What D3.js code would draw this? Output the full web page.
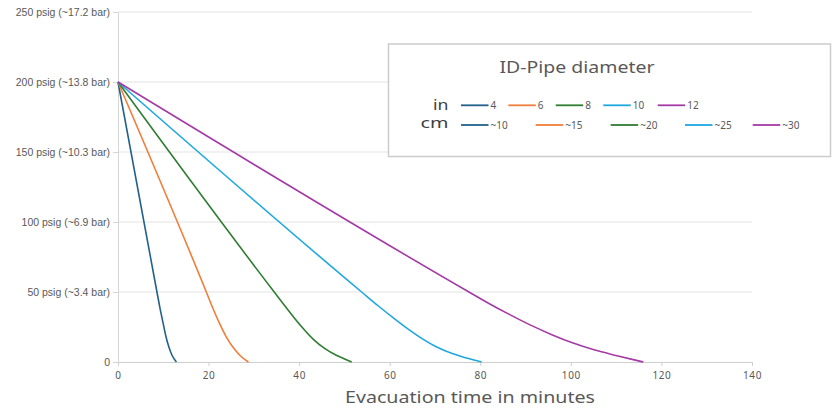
<!DOCTYPE html>
<html>
<head>
<meta charset="utf-8">
<script src="https://cdn.jsdelivr.net/npm/d3@7"></script>
<style>
  html, body { margin: 0; padding: 0; background: #fff; }
  svg { display: block; }
</style>
</head>
<body>
<svg id="chart" width="833" height="409"></svg>
<script>
// ---------------- DATA ----------------
const xTicks = [0, 20, 40, 60, 80, 100, 120, 140];
const yTicks = [0, 50, 100, 150, 200, 250];
const yTickLabels = ["0", "50 psig (~3.4 bar)", "100 psig (~6.9 bar)", "150 psig (~10.3 bar)", "200 psig (~13.8 bar)", "250 psig (~17.2 bar)"];
const xTitle = "Evacuation time in minutes";
const legendTitle = "ID-Pipe diameter";
const legendIn = ["4", "6", "8", "10", "12"];
const legendCm = ["~10", "~15", "~20", "~25", "~30"];

// [minutes, psig]
const pipe4in  = [[0,200],[8.6,50],[9.3,38],[10.0,27],[10.6,18],[11.2,11],[11.9,5],[12.9,0]];
const pipe6in  = [[0,200],[19.5,50],[21.0,38],[22.5,27],[23.9,18],[25.4,10.5],[27.0,4.5],[28.8,0]];
const pipe8in  = [[0,200],[34.5,50],[37.6,37],[40.6,25],[43.2,16],[45.7,9.5],[48.2,4.8],[50.3,1.8],[51.6,0]];
const pipe10in = [[0,200],[53.8,50],[57.5,40],[61.0,31],[64.3,23],[67.5,16],[70.5,10.5],[73.8,6],[77.0,2.8],[80.3,0]];
const pipe12in = [[0,200],[77.5,50],[81.8,42],[86.4,34],[91.0,26.5],[95.8,19.5],[100.5,13.5],[105.3,8.5],[110.2,4.5],[114.0,1.5],[116,0]];

const seriesData = [pipe4in, pipe6in, pipe8in, pipe10in, pipe12in];
const colors = ["#22618c", "#f07e3a", "#2f7d32", "#1ea8df", "#a43aa6"];

// ---------------- LAYOUT ----------------
const svg = d3.select("#chart");
const x = d3.scaleLinear().domain([0, 140]).range([118, 752]);
const y = d3.scaleLinear().domain([0, 250]).range([362, 12]);
const grey = "#595959";

// gridlines
svg.append("g")
  .selectAll("line").data(yTicks.filter(d => d > 0)).join("line")
  .attr("x1", x(0)).attr("x2", x(140))
  .attr("y1", d => y(d)).attr("y2", d => y(d))
  .attr("stroke", "#e3e3e3").attr("stroke-width", 1);

// y axis
const yAxis = d3.axisLeft(y).tickValues(yTicks).tickSize(5).tickPadding(3)
  .tickFormat((d, i) => yTickLabels[i]);
const gy = svg.append("g").attr("transform", `translate(${x(0)},0)`).call(yAxis);
gy.select(".domain").attr("stroke", "#d6d6d6");
gy.selectAll(".tick line").attr("stroke", "#d6d6d6");
gy.selectAll(".tick text").attr("fill", grey)
  .style("font-family", "'Liberation Sans', Arial, sans-serif").style("font-size", "10.5px");

// x axis
const xAxis = d3.axisBottom(x).tickValues(xTicks).tickSize(4).tickPadding(6);
const gx = svg.append("g").attr("transform", `translate(0,${y(0)})`).call(xAxis);
gx.select(".domain").attr("stroke", "#cfcfcf");
gx.selectAll(".tick line").attr("stroke", "#cfcfcf");
gx.selectAll(".tick text").attr("fill", grey)
  .style("font-family", "'Noto Sans', sans-serif").style("font-size", "10px")
  .style("letter-spacing", "0.6px");

// x title
svg.append("text").attr("x", 470).attr("y", 402.5).attr("text-anchor", "middle")
  .attr("fill", grey).style("font-family", "'Noto Sans', sans-serif").style("font-size", "16px")
  .attr("textLength", 250).attr("lengthAdjust", "spacingAndGlyphs")
  .text(xTitle);

// lines
const line = d3.line().x(d => x(d[0])).y(d => y(d[1])).curve(d3.curveMonotoneX);
svg.append("g").selectAll("path").data(seriesData).join("path")
  .attr("d", line).attr("fill", "none")
  .attr("stroke", (d, i) => colors[i]).attr("stroke-width", 1.6)
  .attr("stroke-linejoin", "round");

// legend
const lg = svg.append("g");
lg.append("rect").attr("x", 388.5).attr("y", 44).attr("width", 442).attr("height", 112.5)
  .attr("fill", "#fff").attr("stroke", "#cccccc").attr("stroke-width", 1.5);
lg.append("text").attr("x", 577).attr("y", 72.5).attr("text-anchor", "middle")
  .attr("fill", grey).style("font-family", "'Noto Sans', sans-serif").style("font-size", "16px")
  .attr("textLength", 155).attr("lengthAdjust", "spacingAndGlyphs")
  .text(legendTitle);
lg.append("text").attr("x", 448.5).attr("y", 109.5).attr("text-anchor", "end")
  .attr("fill", "#404040").style("font-family", "'Noto Sans', sans-serif").style("font-size", "15px")
  .attr("textLength", 15.5).attr("lengthAdjust", "spacingAndGlyphs")
  .text("in");
lg.append("text").attr("x", 448.5).attr("y", 127.5).attr("text-anchor", "end")
  .attr("fill", "#404040").style("font-family", "'Noto Sans', sans-serif").style("font-size", "15px")
  .attr("textLength", 28).attr("lengthAdjust", "spacingAndGlyphs")
  .text("cm");

const inX = [461, 508.3, 555.7, 603.3, 657.7];
const cmX = [461, 535.7, 610.7, 685, 752.7];
function legendRow(labels, xs, yy) {
  const g = lg.append("g");
  g.selectAll("line").data(labels).join("line")
    .attr("x1", (d, i) => xs[i]).attr("x2", (d, i) => xs[i] + 27.5)
    .attr("y1", yy).attr("y2", yy)
    .attr("stroke", (d, i) => colors[i]).attr("stroke-width", 1.8);
  g.selectAll("text").data(labels).join("text")
    .attr("x", (d, i) => xs[i] + 29.5).attr("y", yy + 3.5)
    .attr("fill", grey).style("font-family", "'Noto Sans', sans-serif").style("font-size", "10px")
    .text(d => d);
}
legendRow(legendIn, inX, 105.3);
legendRow(legendCm, cmX, 125);
</script>
</body>
</html>
